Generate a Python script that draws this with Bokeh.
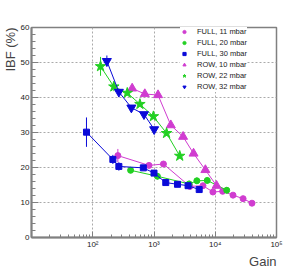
from bokeh.plotting import figure
from bokeh.models import ColumnDataSource, Title, FixedTicker, CustomJSTickFormatter
from bokeh.embed import file_html
from bokeh.resources import INLINE

# ---- data ----
full11_gain = [257, 828, 1426, 3850, 6300, 9160, 13200, 19500, 28500, 39800]
full11_ibf = [23.4, 20.6, 21.0, 14.6, 14.8, 13.0, 13.2, 12.1, 11.1, 9.8]
full11_err = [1.9, 0.4, 0.3, 0.3, 0.3, 0.3, 0.3, 0.3, 0.3, 0.3]

full20_gain = [415, 1137, 3750, 5010, 7400, 15400]
full20_ibf = [19.2, 17.5, 15.3, 16.2, 16.3, 13.5]
full20_err = [0.8, 0.9, 0.9, 0.9, 0.9, 0.9]

full30_gain = [79, 213, 267, 670, 1000, 1556, 2420, 3600, 5470]
full30_ibf = [30.1, 22.3, 20.3, 19.9, 18.4, 15.7, 15.2, 14.8, 13.7]
full30_err = [4.2, 1.3, 1.2, 0.4, 0.4, 0.4, 0.4, 0.4, 0.4]

row10_gain = [440, 708, 1163, 1880, 2985, 4425, 6900, 10500]
row10_ibf = [42.6, 41.0, 40.7, 32.1, 28.8, 24.0, 19.3, 14.8]
row10_err = [0.8, 0.5, 0.5, 0.5, 0.5, 0.5, 0.5, 0.5]

row22_gain = [134, 221, 366, 589, 977, 1603, 2630]
row22_ibf = [48.9, 43.1, 41.3, 38.1, 34.6, 29.8, 23.3]
row22_err = [2.7, 1.3, 0.8, 0.8, 0.8, 0.8, 0.8]

row32_gain = [170, 267, 427, 686, 1006]
row32_ibf = [50.4, 41.6, 37.1, 35.2, 30.9]
row32_err = [1.6, 0.8, 0.6, 0.6, 0.6]

x_major = [100, 1000, 10000, 100000]
y_major = [0, 10, 20, 30, 40, 50, 60]

MAG = "#d03cd0"
GRN = "#22d022"
BLU = "#0a0ad8"
FONT = "Liberation Sans"

XMIN, XMAX = 10, 1e5
YMIN, YMAX = 0, 60

p = figure(width=291, height=268, x_axis_type="log", x_range=(XMIN, XMAX),
           y_range=(YMIN, YMAX), output_backend="svg", toolbar_location=None,
           min_border_left=31, min_border_right=15, min_border_top=27,
           min_border_bottom=26)
p.background_fill_color = "white"
p.border_fill_color = "white"
p.outline_line_color = "#808080"
p.outline_line_width = 1.5

series = [
    ("FULL, 11 mbar", full11_gain, full11_ibf, full11_err, MAG, "circle", 6),
    ("FULL, 20 mbar", full20_gain, full20_ibf, full20_err, GRN, "circle", 6),
    ("FULL, 30 mbar", full30_gain, full30_ibf, full30_err, BLU, "square", 6),
    ("ROW, 10 mbar", row10_gain, row10_ibf, row10_err, MAG, "triangle", 9),
    ("ROW, 22 mbar", row22_gain, row22_ibf, row22_err, GRN, "star", 11),
    ("ROW, 32 mbar", row32_gain, row32_ibf, row32_err, BLU, "inverted_triangle", 9),
]

for name, g, v, e, col, mk, sz in series:
    src = ColumnDataSource(dict(x=g, y=v,
                                lo=[a - b for a, b in zip(v, e)],
                                hi=[a + b for a, b in zip(v, e)]))
    p.line("x", "y", source=src, line_color=col, line_width=1)
    p.segment(x0="x", y0="lo", x1="x", y1="hi", source=src, line_color=col, line_width=1)
    p.scatter("x", "y", source=src, marker=mk, size=sz, fill_color=col,
              line_color=col, legend_label=name)

# axes
p.xaxis.ticker = FixedTicker(ticks=x_major,
                             minor_ticks=[m * 10 ** k for k in range(1, 5) for m in range(2, 10)])
p.xaxis.formatter = CustomJSTickFormatter(code="""
const sup = {1:'\\u00b9', 2:'\\u00b2', 3:'\\u00b3', 4:'\\u2074', 5:'\\u2075'};
const e = Math.round(Math.log10(tick));
return '10' + sup[e];
""")
p.yaxis.ticker = FixedTicker(ticks=y_major,
                             minor_ticks=[i * 2 for i in range(0, 31)])

for ax in (p.xaxis, p.yaxis):
    ax.axis_line_color = "#808080"
    ax.axis_line_width = 2
    ax.major_tick_line_color = "#808080"
    ax.minor_tick_line_color = "#808080"
    ax.major_tick_out = 0
    ax.minor_tick_out = 0
    ax.major_label_text_font = FONT
    ax.major_label_text_font_size = "8px"
    ax.major_label_text_color = "#222222"
    ax.major_label_standoff = 2
p.xaxis.major_tick_in = 6
p.xaxis.minor_tick_in = 3
p.yaxis.major_tick_in = 7
p.yaxis.minor_tick_in = 4

p.xgrid.grid_line_color = "#aaaaaa"
p.xgrid.grid_line_dash = "2 2"
p.ygrid.grid_line_color = "#aaaaaa"
p.ygrid.grid_line_dash = "2 2"

# axis titles (ROOT style: at the far end of each axis)
p.add_layout(Title(text="Gain", align="right", text_font=FONT, text_font_size="13px",
                   text_font_style="normal", standoff=0, offset=0), "below")
p.add_layout(Title(text="IBF (%)", align="right", text_font=FONT, text_font_size="13px",
                   text_font_style="normal", standoff=0, offset=0), "left")

lg = p.legend[0]
lg.location = (149, 145)
lg.background_fill_color = "white"
lg.background_fill_alpha = 1
lg.border_line_color = None
lg.padding = 2
lg.spacing = 0
lg.margin = 0
lg.label_height = 11
lg.glyph_height = 11
lg.glyph_width = 8
lg.label_standoff = 9
lg.label_text_font = FONT
lg.label_text_font_size = "7.5px"
lg.label_text_color = "#222222"

open("out.html", "w").write(file_html(p, INLINE))
